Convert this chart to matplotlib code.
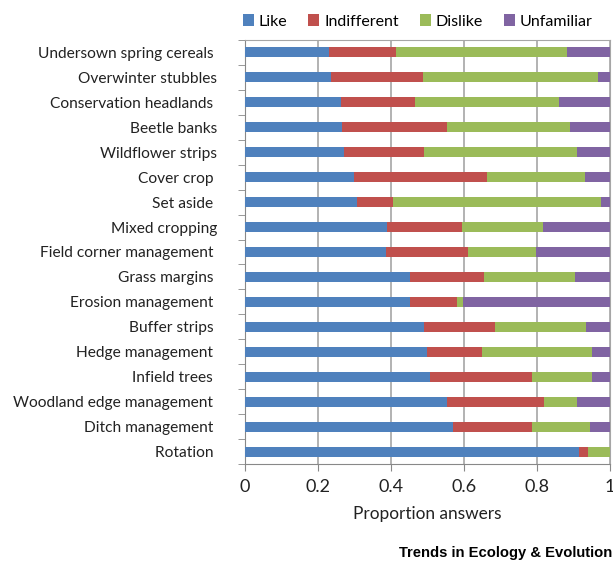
import numpy as np
import matplotlib
matplotlib.use('Agg')
import matplotlib.pyplot as plt
from matplotlib.ticker import FixedLocator

# dados (proporções por categoria, de cima para baixo)
categorias = ['Undersown spring cereals ', 'Overwinter stubbles', 'Conservation headlands ',
              'Beetle banks', 'Wildflower strips', 'Cover crop ', 'Set aside ',
              'Mixed cropping', 'Field corner management ', 'Grass margins ',
              'Erosion management ', 'Buffer strips ', 'Hedge management ',
              'Infield trees ', 'Woodland edge management ', 'Ditch management ', 'Rotation ']
like = [0.230, 0.236, 0.263, 0.266, 0.271, 0.299, 0.307, 0.389, 0.385,
        0.451, 0.453, 0.491, 0.499, 0.506, 0.553, 0.570, 0.916]
indifferent = [0.183, 0.253, 0.204, 0.287, 0.220, 0.365, 0.098, 0.206, 0.226,
               0.204, 0.127, 0.195, 0.149, 0.279, 0.267, 0.215, 0.023]
dislike = [0.469, 0.477, 0.393, 0.338, 0.418, 0.268, 0.569, 0.222, 0.187,
           0.248, 0.018, 0.247, 0.302, 0.165, 0.089, 0.161, 0.061]
unfamiliar = [0.118, 0.034, 0.140, 0.109, 0.091, 0.068, 0.026, 0.183, 0.202,
              0.097, 0.402, 0.067, 0.050, 0.050, 0.091, 0.054, 0.000]
series = ['Like', 'Indifferent', 'Dislike', 'Unfamiliar']
cores = ['#4F81BD', '#C0504D', '#9BBB59', '#8064A2']

plt.rcParams['font.family'] = ['Lato', 'DejaVu Sans']

fig = plt.figure(figsize=(6.13, 5.67), dpi=100)
ax = fig.add_axes([245 / 613, 1 - 464 / 567, 365 / 613, 424 / 567])

y = np.arange(len(categorias))
esquerda = np.zeros(len(categorias))
for nome, vals, cor in zip(series, [like, indifferent, dislike, unfamiliar], cores):
    ax.barh(y, vals, left=esquerda, height=0.4, color=cor, label=nome, zorder=3)
    esquerda += np.array(vals)

ax.set_xlim(0, 1)
ax.set_ylim(len(categorias) - 0.5, -0.5)
ax.set_xticks([0, 0.2, 0.4, 0.6, 0.8, 1])
ax.set_xticklabels(['0', '0.2', '0.4', '0.6', '0.8', '1'])
ax.set_yticks(y)
ax.set_yticklabels(categorias)
ax.yaxis.set_minor_locator(FixedLocator(np.arange(-0.5, len(categorias), 1)))
ax.tick_params(axis='y', which='major', length=0, pad=20, labelsize=11.2, labelcolor='#222222')
ax.tick_params(axis='y', which='minor', length=5, color='#888888', direction='out')
ax.tick_params(axis='x', length=5, color='#888888', labelsize=13, pad=6, labelcolor='#222222')
ax.grid(axis='x', color='#A6A6A6', linewidth=1.2, zorder=0)
for lado in ['top', 'right']:
    ax.spines[lado].set_color('#A6A6A6')
ax.spines['left'].set_color('#888888')
ax.spines['bottom'].set_color('#888888')
ax.set_xlabel('Proportion answers', fontsize=12.4, color='#222222', labelpad=8)

fig.legend(loc='upper right', bbox_to_anchor=(0.99, 1.0), ncol=4, frameon=False,
           fontsize=11.5, handlelength=0.7, handleheight=0.7, handletextpad=0.3,
           columnspacing=1.3)

fig.text(0.999, 0.012, 'Trends in Ecology & Evolution', ha='right', va='bottom',
         fontsize=10.6, fontweight='bold', family='Liberation Sans')

fig.savefig('out.png', dpi=100)
